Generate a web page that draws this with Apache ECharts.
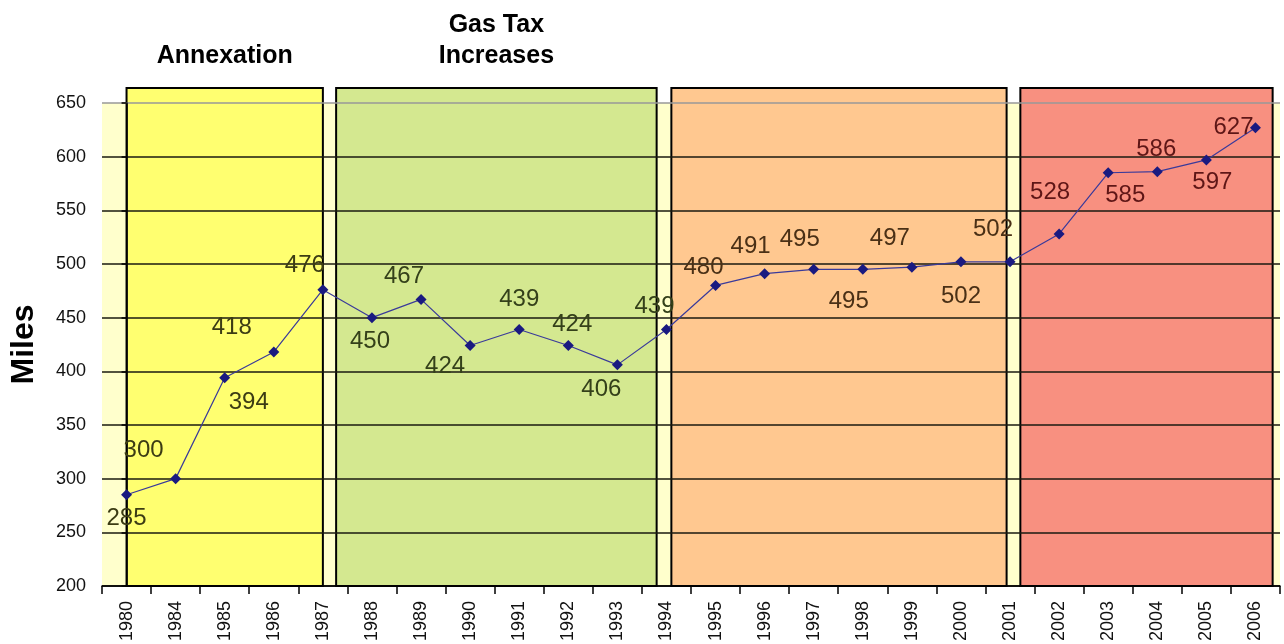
<!DOCTYPE html>
<html>
<head>
<meta charset="utf-8">
<script src="https://cdn.jsdelivr.net/npm/echarts@6/dist/echarts.min.js"></script>
<style>
  html, body { margin: 0; padding: 0; background: #fff; }
  #main { width: 1284px; height: 644px; }
</style>
</head>
<body>
<div id="main"></div>
<script>
// years on the x axis
const years = ['1980', '1984', '1985', '1986', '1987', '1988', '1989', '1990', '1991', '1992',
  '1993', '1994', '1995', '1996', '1997', '1998', '1999', '2000', '2001', '2002',
  '2003', '2004', '2005', '2006']
// miles per year
const miles = [285, 300, 394, 418, 476, 450, 467, 424, 439, 424,
  406, 439, 480, 491, 495, 495, 497, 502, 502, 528,
  585, 586, 597, 627]
// where each value label sits relative to its point (px)
const labelOffsets = [[0, 24], [-32, -28], [24, 25], [-42, -25], [-18, -24], [-2, 24], [-17, -23], [-25, 21],
  [0, -30], [4, -21], [-16, 25], [-12, -23], [-12, -18], [-14, -27], [-14, -30], [-14, 32],
  [-22, -29], [0, 35], [-17, -32], [-9, -42], [17, 23], [-1, -22], [6, 22], [-22, 0]]
// shaded periods, in category index units
const periods = [
  { title: 'Annexation', from: 0, to: 4, color: '#ffff70', text: '#3c3c14' },
  { title: 'Gas Tax\nIncreases', from: 4.27, to: 10.8, color: '#d4e890', text: '#34401a' },
  { title: '', from: 11.1, to: 17.93, color: '#ffc890', text: '#4a3016' },
  { title: '', from: 18.21, to: 23.35, color: '#f89080', text: '#5e1616' }
]

function labelColor(i) {
  const p = periods.find(p => i >= p.from - 0.3 && i <= p.to + 0.3)
  return p ? p.text : '#333'
}

const chart = echarts.init(document.getElementById('main'))

const option = {
  animation: false,
  textStyle: { fontFamily: 'Liberation Sans, Arial, sans-serif' },
  grid: { left: 100, right: 4, top: 103, bottom: 57, show: false },
  xAxis: [
    {
      type: 'category',
      data: years,
      boundaryGap: true,
      axisLine: { lineStyle: { color: '#000', width: 1.5 } },
      axisTick: { show: true, length: 8, lineStyle: { color: '#000', width: 1.5 } },
      axisLabel: { rotate: 90, fontSize: 18, color: '#111', margin: 15, interval: 0 }
    },
    { type: 'value', min: -0.5, max: 23.5, show: false }
  ],
  yAxis: {
    type: 'value',
    min: 200,
    max: 650,
    interval: 50,
    name: 'Miles',
    nameLocation: 'middle',
    nameGap: 62,
    nameRotate: 90,
    nameTextStyle: { fontSize: 32, fontWeight: 'bold', color: '#000' },
    axisLine: { show: true, lineStyle: { color: '#000', width: 1.5 } },
    axisTick: { show: true, length: 5, lineStyle: { color: '#000', width: 1.5 } },
    axisLabel: { fontSize: 18, color: '#111', margin: 16 },
    splitLine: {
      lineStyle: {
        color: ['#000', '#1a1a10', '#1a1a10', '#1a1a10', '#1a1a10', '#1a1a10', '#1a1a10', '#1a1a10', '#1a1a10', '#999'],
        width: 1.5
      }
    }
  },
  series: [
    {
      type: 'line',
      data: miles.map((v, i) => ({
        value: v,
        label: { offset: labelOffsets[i], color: labelColor(i) }
      })),
      symbol: 'diamond',
      symbolSize: 11,
      lineStyle: { color: '#3a3a9a', width: 1.2 },
      itemStyle: { color: '#1a1a80' },
      label: {
        show: true,
        position: ['50%', '50%'],
        align: 'center',
        verticalAlign: 'middle',
        fontSize: 24,
        color: '#333'
      },
      z: 3
    }
  ]
}

chart.setOption(option)

// plot background and period boxes, placed from the axis scales
function drawPeriods() {
  const yPlotTop = chart.convertToPixel({ yAxisIndex: 0 }, 650)
  const yBottom = chart.convertToPixel({ yAxisIndex: 0 }, 200)
  const yTop = yPlotTop - 15
  const xLeft = chart.convertToPixel({ xAxisIndex: 1 }, -0.5)
  const xRight = chart.convertToPixel({ xAxisIndex: 1 }, 23.5)
  const elements = [{
    type: 'rect',
    z: -10,
    shape: { x: xLeft, y: yPlotTop, width: xRight - xLeft, height: yBottom - yPlotTop },
    style: { fill: '#ffffcc' }
  }]
  periods.forEach(p => {
    const x1 = chart.convertToPixel({ xAxisIndex: 1 }, p.from)
    const x2 = chart.convertToPixel({ xAxisIndex: 1 }, p.to)
    elements.push({
      type: 'rect',
      z: -5,
      shape: { x: x1, y: yTop, width: x2 - x1, height: yBottom - yTop },
      style: { fill: p.color, stroke: '#000', lineWidth: 2 }
    })
    if (p.title) {
      elements.push({
        type: 'text',
        z: 100,
        x: (x1 + x2) / 2,
        y: yTop - 16,
        style: {
          text: p.title,
          fontSize: 25,
          fontWeight: 'bold',
          fontFamily: 'Liberation Sans, Arial, sans-serif',
          fill: '#000',
          align: 'center',
          verticalAlign: 'bottom',
          lineHeight: 31
        }
      })
    }
  })
  chart.setOption({ graphic: elements })
}

drawPeriods()
</script>
</body>
</html>
